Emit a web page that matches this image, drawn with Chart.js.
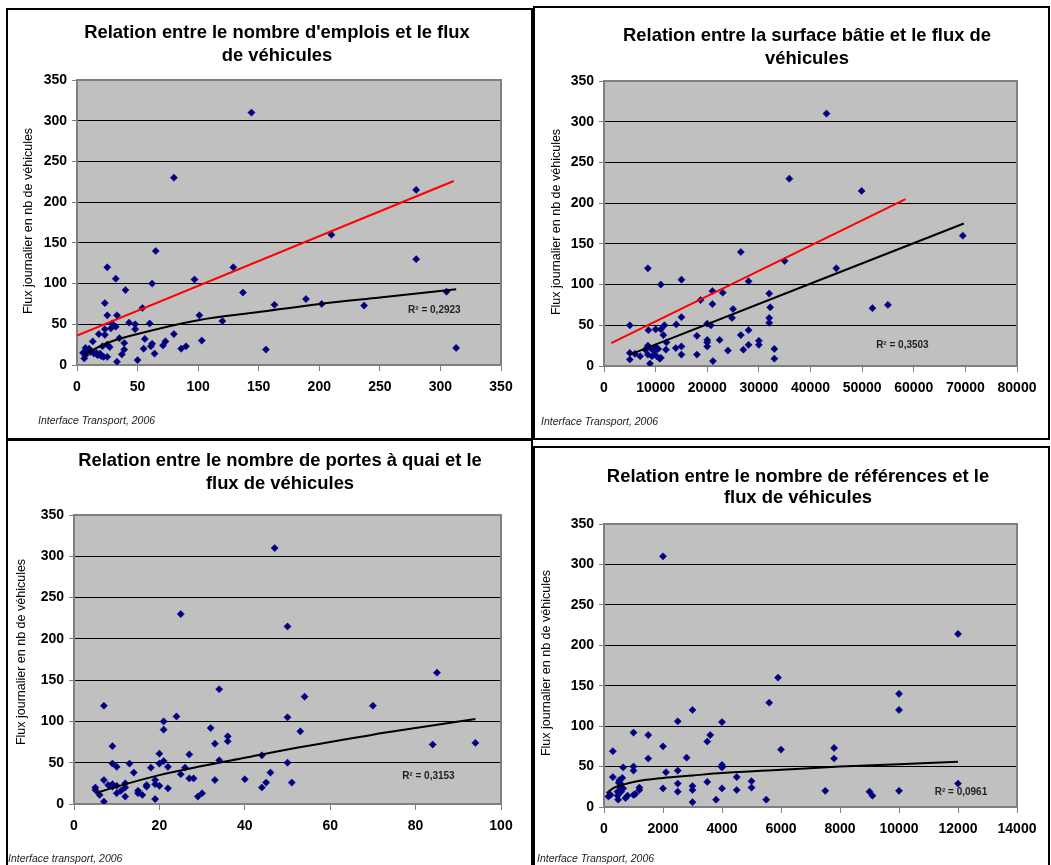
<!DOCTYPE html>
<html>
<head>
<meta charset="utf-8">
<script src="https://cdn.jsdelivr.net/npm/chart.js@4.4.0/dist/chart.umd.min.js"></script>
<style>
  body { margin: 0; background: #fff; width: 1051px; height: 865px; overflow: hidden; position: relative; }
  canvas { position: absolute; }
</style>
</head>
<body>
<canvas id="emplois"></canvas>
<canvas id="surface"></canvas>
<canvas id="portes"></canvas>
<canvas id="references"></canvas>
<script>
// --- données ---
const fluxTicks = [0, 50, 100, 150, 200, 250, 300, 350];

// emplois
const emploisX = [144,80,280,210,65,280,25,129,32,97, 62,40,137,305,189,23,163,202,237,54, 25,33,101,120,43,48,60,29,32,28, 23,48,18,23,80,35,56,13,39,62, 73,71,61,25,21,7,8,103,86,90, 55,39,156,313,5,16,37,64,6,11, 14,17,20,22,25,19,33,50,7,10, 27];
const emploisFlux = [310,230,215,160,140,130,120,120,106,105, 100,92,89,90,81,76,74,75,73,70, 61,61,61,54,52,50,51,51,47,45, 44,44,38,37,38,33,32,29,27,26, 29,24,23,25,23,21,17,30,20,23, 20,19,19,21,15,15,13,14,8,16, 14,12,11,10,10,14,4,6,12,20, 22];
const emploisRougeX = [0, 311];
const emploisRougeY = [36, 226];
const emploisTendX = [6, 25, 50, 100, 150, 200, 250, 313];
const emploisTendY = [13, 27, 38, 55, 65, 75, 83, 93];

// surface bâtie
const surfaceX = [43100,35900,49900,69500,26500,35000,8500,45000,15000,28000, 11000,21000,23000,32000,18700,21000,55000,32200,52000,25000, 15000,24800,32000,32000,20000,14000,5000,11700,20700,8600, 10000,11000,28000,11500,26500,18000,12100,20000,22400,30000, 20000,28000,30000,20000,15000,13900,12000,33000,24000,27000, 8500,9000,9500,10000,10500,8000,5000,5000,6000,7000, 8500,9300,10200,10800,8900,15000,18000,21100,33000,11000, 9800];
const surfaceFlux = [310,230,215,160,140,129,120,120,106,104, 100,92,90,89,81,76,75,72,71,70, 60,59,59,53,52,51,50,50,50,44, 45,45,44,38,38,37,29,32,32,31, 29,26,26,24,24,22,20,21,19,20, 25,22,20,23,21,20,16,8,15,12, 14,12,12,9,3,14,14,6,9,10, 18];
const surfaceRougeX = [1400, 58400];
const surfaceRougeY = [28, 205];
const surfaceTendX = [5000, 69700];
const surfaceTendY = [14, 175];

// portes à quai
const portesX = [47,25,50,85,34,54,7,70,24,50, 21,32,21,53,36,36,94,33,84,9, 20,27,44,34,21,9,13,50,20,10, 18,22,26,14,25,46,7,19,27,28, 33,40,45,51,12,12,8,9,10,19, 20,17,17,22,44,5,5,6,7,15, 15,16,11,12,10,19,29,30,9];
const portesFlux = [310,230,215,159,139,130,119,119,106,105, 100,92,90,88,82,76,74,73,72,70, 61,60,59,53,52,49,49,50,49,45, 44,45,44,38,36,38,29,29,31,31, 29,30,26,26,25,20,23,21,22,24, 22,23,21,19,20,20,17,11,3,16, 13,11,16,9,13,6,9,13,24];
const portesTendX = [5, 10, 20, 30, 40, 50, 60, 70, 80, 94];
const portesTendY = [13, 21, 35, 46, 56, 66, 75, 84, 92, 103];

// références
const refsX = [2000,12000,5900,10000,5600,3000,10000,2500,4000,1000, 1500,3600,3500,2000,7800,6000,300,2800,1500,7800, 4000,4000,650,1000,1000,2500,2100,300,620,4500, 3500,5000,2500,3000,500,580,1200,1200,2000,4000, 5000,3000,4500,2500,7500,9000,10000,9100,12000,3800, 5500,3000,150,220,460,460,480,650,580,730, 800,1000,1060,550,520];
const refsFlux = [310,214,160,140,129,120,120,106,105,92, 89,89,81,75,73,71,69,61,60,60, 52,49,49,50,45,45,43,37,36,37, 31,32,29,26,30,28,24,21,23,23, 24,21,21,19,20,19,20,14,29,9, 9,6,13,15,19,14,9,23,19,11, 14,15,16,25,33];
const refsTendX = [90, 300, 600, 1000, 2000, 3000, 4000, 6000, 8000, 10000, 12000];
const refsTendY = [17, 23, 27, 31, 36, 39, 42, 46, 50, 53, 56];

const yLabel = 'Flux journalier en nb de véhicules';
const police = 'Arial, "Liberation Sans", sans-serif';
Chart.defaults.font.family = police;

function points(xs, ys) {
    return xs.map((x, i) => ({ x: x, y: ys[i] }));
}

// Dessine le fond gris, les textes et le cadre de chaque panneau
function decor(p) {
    return {
        id: 'decor',
        beforeDraw(chart) {
            const a = chart.chartArea, ctx = chart.ctx;
            ctx.save();
            ctx.fillStyle = '#c0c0c0';
            ctx.fillRect(a.left, a.top, a.right - a.left, a.bottom - a.top);
            ctx.restore();
        },
        afterDraw(chart) {
            const a = chart.chartArea, ctx = chart.ctx;
            const bx = p.box[0], by = p.box[1];
            ctx.save();
            // bord haut et droit de la zone de tracé
            ctx.strokeStyle = '#808080';
            ctx.lineWidth = 2;
            ctx.beginPath();
            ctx.moveTo(a.left, a.top);
            ctx.lineTo(a.right, a.top);
            ctx.lineTo(a.right, a.bottom);
            ctx.stroke();

            ctx.fillStyle = '#000';
            ctx.textAlign = 'center';
            ctx.textBaseline = 'middle';
            ctx.font = 'bold 18.4px ' + police;
            p.title.forEach((t, i) => ctx.fillText(t, p.titleX - bx, p.titleY[i] - by));

            ctx.font = '12.5px ' + police;
            ctx.save();
            ctx.translate(p.yLab[0] - bx, p.yLab[1] - by);
            ctx.rotate(-Math.PI / 2);
            ctx.fillText(yLabel, 0, 0);
            ctx.restore();

            ctx.textAlign = 'left';
            ctx.font = 'italic 10.5px ' + police;
            ctx.fillStyle = '#222';
            ctx.fillText(p.source, p.src[0] - bx, p.src[1] - by);

            ctx.textAlign = 'center';
            ctx.font = 'bold 10px ' + police;
            ctx.fillStyle = '#222';
            ctx.fillText(p.r2, chart.scales.x.getPixelForValue(p.r2At[0]), chart.scales.y.getPixelForValue(p.r2At[1]));

            ctx.strokeStyle = '#000';
            ctx.lineWidth = 2;
            ctx.strokeRect(1, 1, p.box[2] - 2, p.box[3] - 2);
            ctx.restore();
        }
    };
}

function graphique(p) {
    const cv = document.getElementById(p.id);
    const [bx, by, bw, bh] = p.box;
    cv.width = bw; cv.height = bh;
    cv.style.left = bx + 'px'; cv.style.top = by + 'px';
    cv.style.width = bw + 'px'; cv.style.height = bh + 'px';
    const xAxisH = 30;

    const datasets = [{
        type: 'scatter',
        data: points(p.xs, p.ys),
        pointStyle: 'rectRot',
        pointRadius: 3.6,
        backgroundColor: '#000080',
        borderColor: '#000080',
        borderWidth: 0.5,
        order: 2
    }];
    if (p.rouge) {
        datasets.push({
            type: 'line', data: points(p.rouge[0], p.rouge[1]),
            borderColor: '#ff0000', borderWidth: 2, pointRadius: 0, order: 0
        });
    }
    datasets.push({
        type: 'line', data: points(p.tend[0], p.tend[1]),
        borderColor: '#000', borderWidth: 2, pointRadius: 0,
        cubicInterpolationMode: 'monotone', order: 1
    });

    return new Chart(cv.getContext('2d'), {
        data: { datasets: datasets },
        options: {
            responsive: false,
            animation: false,
            layout: {
                padding: {
                    left: 0,
                    top: p.plot[1] - by,
                    right: bx + bw - p.plot[2],
                    bottom: by + bh - p.plot[3] - xAxisH
                }
            },
            plugins: { legend: { display: false }, tooltip: { enabled: false } },
            scales: {
                x: {
                    type: 'linear',
                    min: 0, max: p.xMax,
                    afterFit(s) { s.height = xAxisH; },
                    ticks: {
                        stepSize: p.xStep, color: '#000', padding: 8,
                        font: { size: 14, weight: 'bold' },
                        callback: v => String(v)
                    },
                    grid: { drawOnChartArea: false, drawTicks: true, tickLength: 6, tickColor: '#808080' },
                    border: { color: '#808080', width: 2 }
                },
                y: {
                    min: 0, max: 350,
                    afterFit(s) { s.width = p.plot[0] - bx; },
                    afterBuildTicks(s) { s.ticks = fluxTicks.map(v => ({ value: v })); },
                    ticks: { color: '#000', padding: 5, font: { size: 14, weight: 'bold' }, callback: v => String(v) },
                    grid: {
                        color: c => (c.tick && (c.tick.value === 0 || c.tick.value === 350)) ? '#808080' : '#000',
                        lineWidth: 1, tickLength: 5, tickColor: '#808080'
                    },
                    border: { color: '#808080', width: 2 }
                }
            }
        },
        plugins: [decor(p)]
    });
}

graphique({
    id: 'emplois', box: [6, 8, 527, 432], plot: [77, 80, 501, 365],
    xs: emploisX, ys: emploisFlux, xMax: 350, xStep: 50,
    rouge: [emploisRougeX, emploisRougeY], tend: [emploisTendX, emploisTendY],
    title: ["Relation entre le nombre d'emplois et le flux", 'de véhicules'], titleX: 277, titleY: [33, 56],
    yLab: [29, 221], source: 'Interface Transport, 2006', src: [38, 421],
    r2: 'R² = 0,2923', r2At: [295, 67]
});
graphique({
    id: 'surface', box: [533, 6, 517, 434], plot: [604, 81, 1017, 366],
    xs: surfaceX, ys: surfaceFlux, xMax: 80000, xStep: 10000,
    rouge: [surfaceRougeX, surfaceRougeY], tend: [surfaceTendX, surfaceTendY],
    title: ['Relation entre la surface bâtie et le flux de', 'véhicules'], titleX: 807, titleY: [36, 59],
    yLab: [557, 222], source: 'Interface Transport, 2006', src: [541, 422],
    r2: 'R² = 0,3503', r2At: [57800, 25]
});
graphique({
    id: 'portes', box: [6, 439, 527, 432], plot: [74, 515, 501, 804],
    xs: portesX, ys: portesFlux, xMax: 100, xStep: 20,
    tend: [portesTendX, portesTendY],
    title: ['Relation entre le nombre de portes à quai et le', 'flux de véhicules'], titleX: 280, titleY: [461, 484],
    yLab: [22, 652], source: 'Interface transport, 2006', src: [8, 859],
    r2: 'R² = 0,3153', r2At: [83, 34]
});
graphique({
    id: 'references', box: [533, 446, 517, 425], plot: [604, 524, 1017, 807],
    xs: refsX, ys: refsFlux, xMax: 14000, xStep: 2000,
    tend: [refsTendX, refsTendY],
    title: ['Relation entre le nombre de références et le', 'flux de véhicules'], titleX: 798, titleY: [477, 498],
    yLab: [547, 663], source: 'Interface Transport, 2006', src: [537, 859],
    r2: 'R² = 0,0961', r2At: [12100, 18]
});
</script>
</body>
</html>
